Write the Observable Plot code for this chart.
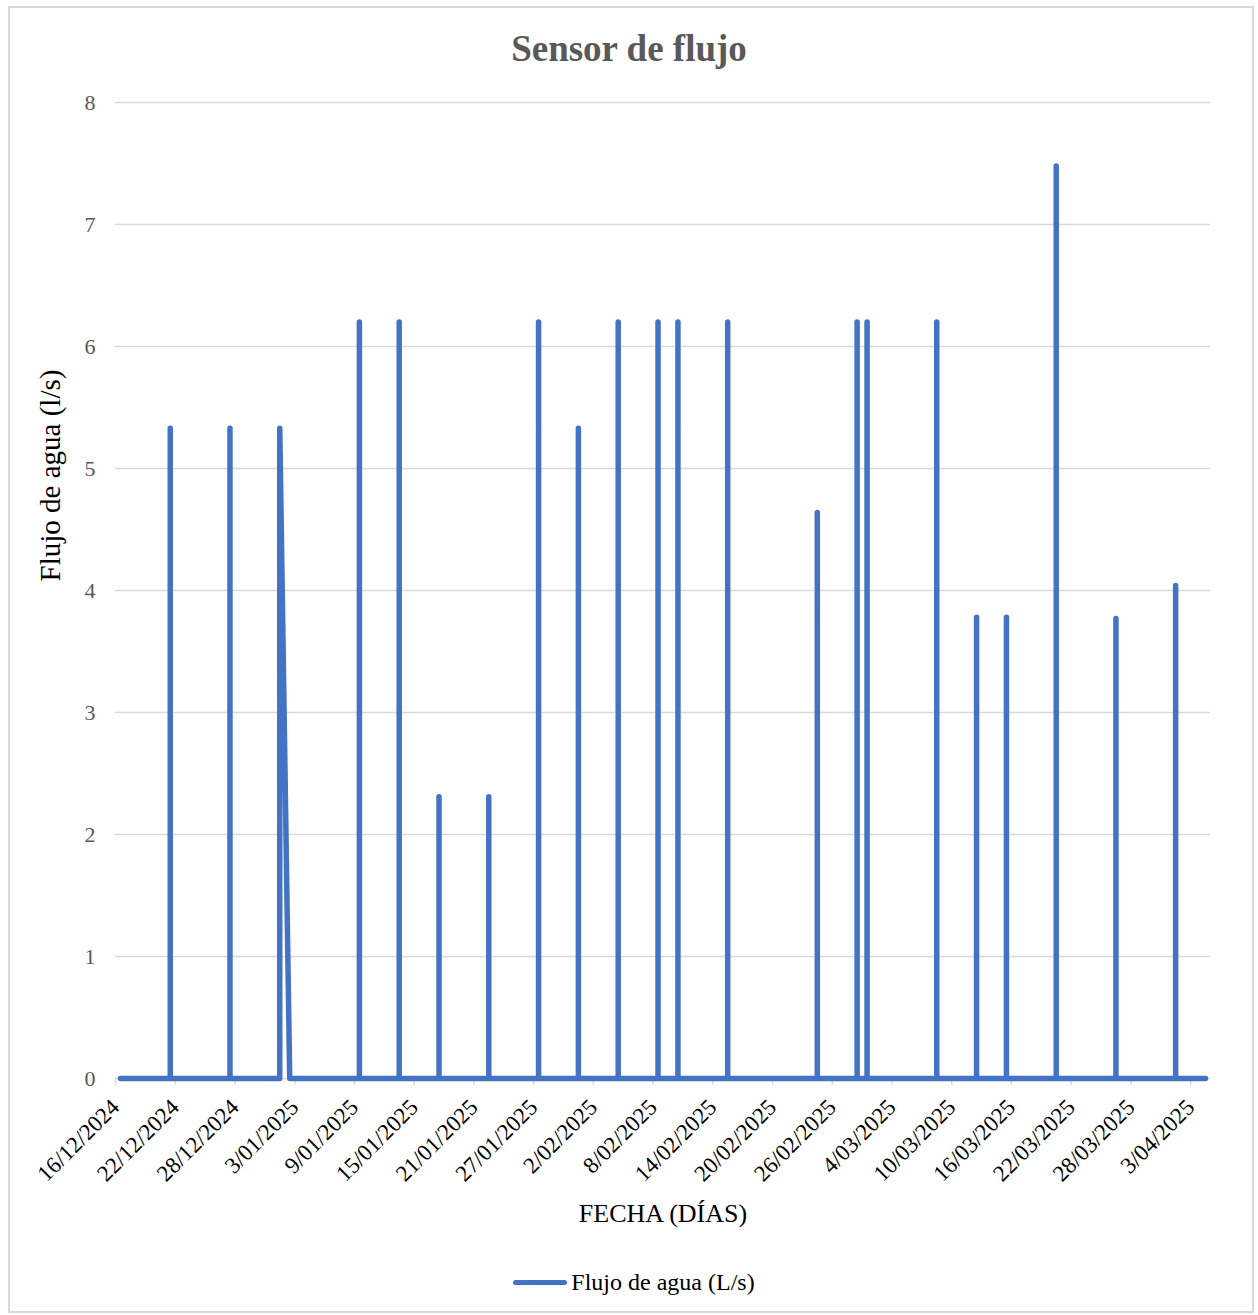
<!DOCTYPE html>
<html>
<head>
<meta charset="utf-8">
<script src="https://cdn.jsdelivr.net/npm/d3@7"></script>
<script src="https://cdn.jsdelivr.net/npm/@observablehq/plot@0.6"></script>
<style>
  html, body { margin: 0; padding: 0; background: #fff; }
  #wrap { position: relative; width: 1258px; height: 1315px; overflow: hidden; font-family: "Liberation Serif", "Times New Roman", serif; }
  #frame { position: absolute; left: 8px; top: 6px; width: 1246px; height: 1307px; border: 2px solid #d9d9d9; box-sizing: border-box; pointer-events: none; }
  #title { height: 80px; box-sizing: border-box; padding-top: 29px; line-height: 40px; text-align: center; font-size: 37px; font-weight: bold; color: #595959; }
  #chart svg { display: block; }
  #legend { height: 70px; box-sizing: border-box; padding-top: 4px; display: flex; justify-content: center; align-items: center; padding-left: 10px; }
  #legend .sw { width: 54px; height: 5px; border-radius: 3px; background: #4472C4; margin-right: 4px; }
  #legend .lb { font-size: 24px; line-height: 26px; color: #000; }
</style>
</head>
<body>
<div id="wrap">
  <div id="frame"></div>
  <div id="title"></div>
  <div id="chart"></div>
  <div id="legend"><div class="sw"></div><div class="lb"></div></div>
</div>
<script>
// ---- data ----
const titulo = "Sensor de flujo";
const etiquetaY = "Flujo de agua (l/s)";
const etiquetaX = "FECHA (DÍAS)";
const serieNombre = "Flujo de agua (L/s)";

// Sequence of readings (date, flow). Several readings on the same day draw a vertical spike.
const fechas = [
  "2024-12-16",
  "2024-12-21", "2024-12-21", "2024-12-21",
  "2024-12-27", "2024-12-27", "2024-12-27",
  "2025-01-01", "2025-01-01",
  "2025-01-02",
  "2025-01-09", "2025-01-09", "2025-01-09",
  "2025-01-13", "2025-01-13", "2025-01-13", "2025-01-13",
  "2025-01-17", "2025-01-17", "2025-01-17",
  "2025-01-22", "2025-01-22", "2025-01-22",
  "2025-01-27", "2025-01-27", "2025-01-27",
  "2025-01-31", "2025-01-31", "2025-01-31",
  "2025-02-04", "2025-02-04", "2025-02-04", "2025-02-04",
  "2025-02-08", "2025-02-08", "2025-02-08",
  "2025-02-10", "2025-02-10", "2025-02-10",
  "2025-02-15", "2025-02-15", "2025-02-15",
  "2025-02-24", "2025-02-24", "2025-02-24",
  "2025-02-28", "2025-02-28", "2025-02-28",
  "2025-03-01", "2025-03-01", "2025-03-01",
  "2025-03-08", "2025-03-08", "2025-03-08",
  "2025-03-12", "2025-03-12", "2025-03-12",
  "2025-03-15", "2025-03-15", "2025-03-15",
  "2025-03-20", "2025-03-20", "2025-03-20",
  "2025-03-26", "2025-03-26", "2025-03-26",
  "2025-04-01", "2025-04-01", "2025-04-01", "2025-04-01",
  "2025-04-04"
];
const flujo = [
  0,
  0, 5.33, 0,
  0, 5.33, 0,
  0, 5.33,
  0,
  0, 6.2, 0,
  0, 4.47, 6.2, 0,
  0, 2.31, 0,
  0, 2.31, 0,
  0, 6.2, 0,
  0, 5.33, 0,
  0, 4.47, 6.2, 0,
  0, 6.2, 0,
  0, 6.2, 0,
  0, 6.2, 0,
  0, 4.64, 0,
  0, 6.2, 0,
  0, 6.2, 0,
  0, 6.2, 0,
  0, 3.78, 0,
  0, 3.78, 0,
  0, 7.48, 0,
  0, 3.77, 0,
  0, 3.6, 4.04, 0,
  0
];

const xTicks = [
  "2024-12-16", "2024-12-22", "2024-12-28", "2025-01-03", "2025-01-09",
  "2025-01-15", "2025-01-21", "2025-01-27", "2025-02-02", "2025-02-08",
  "2025-02-14", "2025-02-20", "2025-02-26", "2025-03-04", "2025-03-10",
  "2025-03-16", "2025-03-22", "2025-03-28", "2025-04-03"
];
const yTicks = [0, 1, 2, 3, 4, 5, 6, 7, 8];
const xDominio = ["2024-12-16", "2025-04-05"];
const yDominio = [0, 8];

// ---- build ----
const parse = d3.utcParse("%Y-%m-%d");
const datos = fechas.map((f, i) => ({fecha: parse(f), flujo: flujo[i]}));
const fmt = d3.utcFormat("%-d/%m/%Y");
const azul = "#4472C4";

const chart = Plot.plot({
  width: 1258,
  height: 1165,
  marginTop: 22,
  marginBottom: 167,
  marginLeft: 115,
  marginRight: 48,
  style: {fontFamily: "'Liberation Serif', 'Times New Roman', serif", background: "transparent"},
  x: {type: "utc", domain: xDominio.map(parse)},
  y: {domain: yDominio},
  marks: [
    Plot.gridY(yTicks, {stroke: "#d9d9d9", strokeOpacity: 1, strokeWidth: 1.5}),
    Plot.axisY(yTicks, {tickSize: 0, tickPadding: 20, fontSize: 22, fill: "#595959", tickFormat: d3.format("d"), label: null}),
    Plot.axisX(xTicks.map(parse), {
      tickSize: 7, tickPadding: 18, stroke: "#d9d9d9", strokeOpacity: 1, strokeWidth: 1.5,
      tickRotate: -45, tickFormat: fmt, fontSize: 23, fill: "#000", label: null
    }),
    Plot.line(datos, {
      x: d => d3.utcHour.offset(d.fecha, 12),
      y: "flujo",
      stroke: azul, strokeWidth: 5.5, strokeLinecap: "round", strokeLinejoin: "round"
    }),
    Plot.text([etiquetaY], {frameAnchor: "left", textAnchor: "middle", rotate: -90, dx: -65, dy: -115, fontSize: 29, fill: "#000"}),
    Plot.text([etiquetaX], {frameAnchor: "bottom", dy: 143, fontSize: 26, fill: "#000"})
  ]
});

document.getElementById("title").textContent = titulo;
document.getElementById("chart").appendChild(chart);
document.querySelector("#legend .lb").textContent = serieNombre;
</script>
</body>
</html>
